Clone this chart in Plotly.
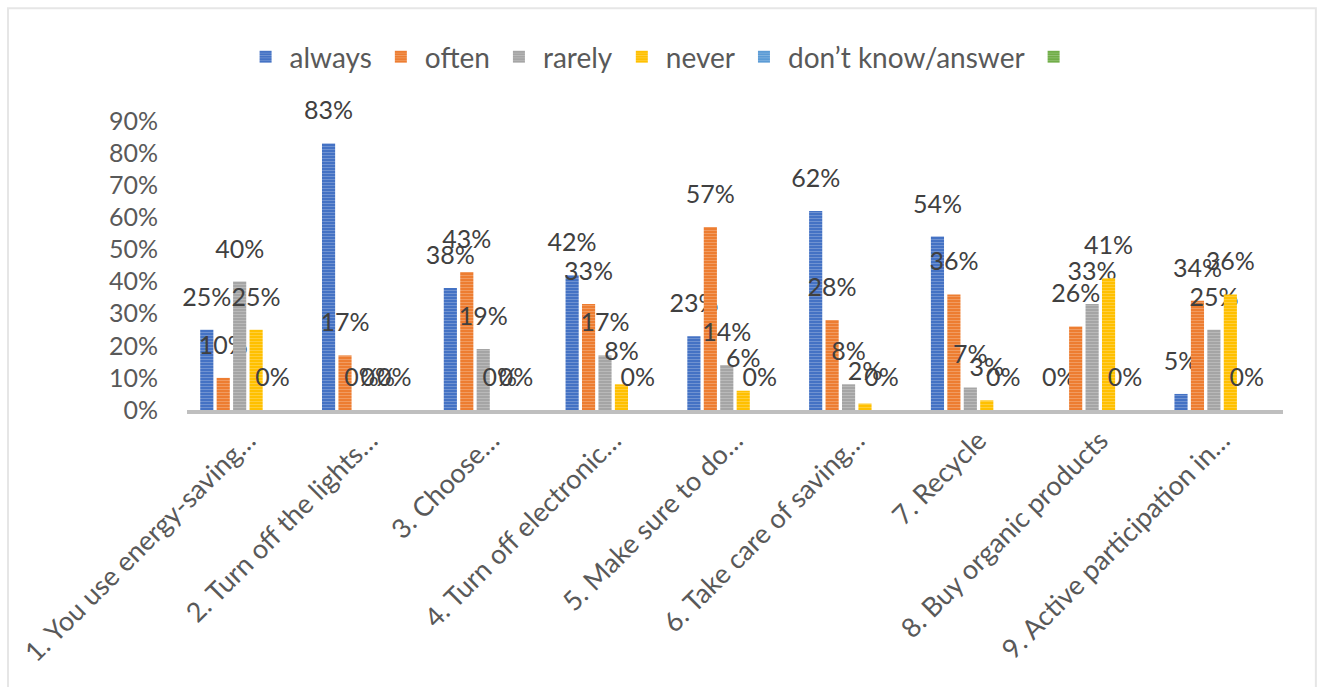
import plotly.graph_objects as go

categories = [
    "1. You use energy-saving…",
    "2. Turn off the lights…",
    "3. Choose…",
    "4. Turn off electronic…",
    "5. Make sure to do…",
    "6. Take care of saving…",
    "7. Recycle",
    "8. Buy organic products",
    "9. Active participation in…",
]

always = [25, 83, 38, 42, 23, 62, 54, 0, 5]
often = [10, 17, 43, 33, 57, 28, 36, 26, 34]
rarely = [40, 0, 19, 17, 14, 8, 7, 33, 25]
never = [25, 0, 0, 8, 6, 2, 3, 41, 36]
dont_know = [0, 0, 0, 0, 0, 0, 0, 0, 0]
unnamed = [None] * 9

series_names = ["always", "often", "rarely", "never", "don’t know/answer", " "]
series_values = [always, often, rarely, never, dont_know, unnamed]
colors = ["#4472C4", "#ED7D31", "#A5A5A5", "#FFC000", "#5B9BD5", "#70AD47"]

FONT = "Lato, 'Open Sans', sans-serif"
LABEL_LIFT = 0.05  # height of the invisible carrier bar; label sits just above it

fig = go.Figure()
for i, (name, vals, col) in enumerate(zip(series_names, series_values, colors)):
    yv = [v / 100 if v is not None else None for v in vals]
    fig.add_trace(go.Bar(
        x=categories, y=yv, name=name, offsetgroup=str(i),
        marker=dict(color=col, line=dict(width=0),
                    pattern=dict(shape="-", fgcolor="white", fgopacity=0.25, size=3, solidity=0.3)),
        cliponaxis=False,
    ))
    if all(v is None for v in vals):
        continue
    # invisible carrier bars holding the data labels above each bar
    fig.add_trace(go.Bar(
        x=categories, y=[LABEL_LIFT] * len(vals), base=yv, offsetgroup=str(i),
        marker=dict(color="rgba(0,0,0,0)", line=dict(width=0)),
        text=[f"{v}%" for v in vals], textposition="outside",
        constraintext="none", textangle=0,
        textfont=dict(size=25, color="#404040", family=FONT),
        showlegend=False, hoverinfo="skip", cliponaxis=False,
    ))

fig.update_layout(
    width=1319, height=687,
    barmode="group", bargap=0.19, bargroupgap=0.2,
    plot_bgcolor="white", paper_bgcolor="white",
    margin=dict(l=187, r=36, t=121, b=277),
    font=dict(family=FONT, color="#595959"),
    legend=dict(orientation="h", xref="container", yref="container",
                x=0.505, xanchor="center", y=1 - 57 / 687, yanchor="middle",
                font=dict(size=28, color="#595959"), itemwidth=38, traceorder="normal"),
    showlegend=True,
    uniformtext=dict(mode=False),
    shapes=[dict(type="rect", xref="paper", yref="paper",
                 x0=-179 / 1096, x1=1.03, y0=-0.97, y1=1.39,
                 line=dict(color="#E6E6E6", width=2), fillcolor="rgba(0,0,0,0)", layer="below")],
)
fig.update_yaxes(range=[0, 0.9], dtick=0.1, tickformat=".0%", showgrid=False,
                 zeroline=False, showline=False, ticks="", ticklabelstandoff=28,
                 tickfont=dict(size=25, color="#595959"))
fig.update_xaxes(tickangle=-45, showline=True, linecolor="#BFBFBF", linewidth=4,
                 ticks="", tickfont=dict(size=27, color="#595959"), showgrid=False)

fig.write_html("out.html", config={"displayModeBar": False},
               post_script="document.body.style.margin='0';")
